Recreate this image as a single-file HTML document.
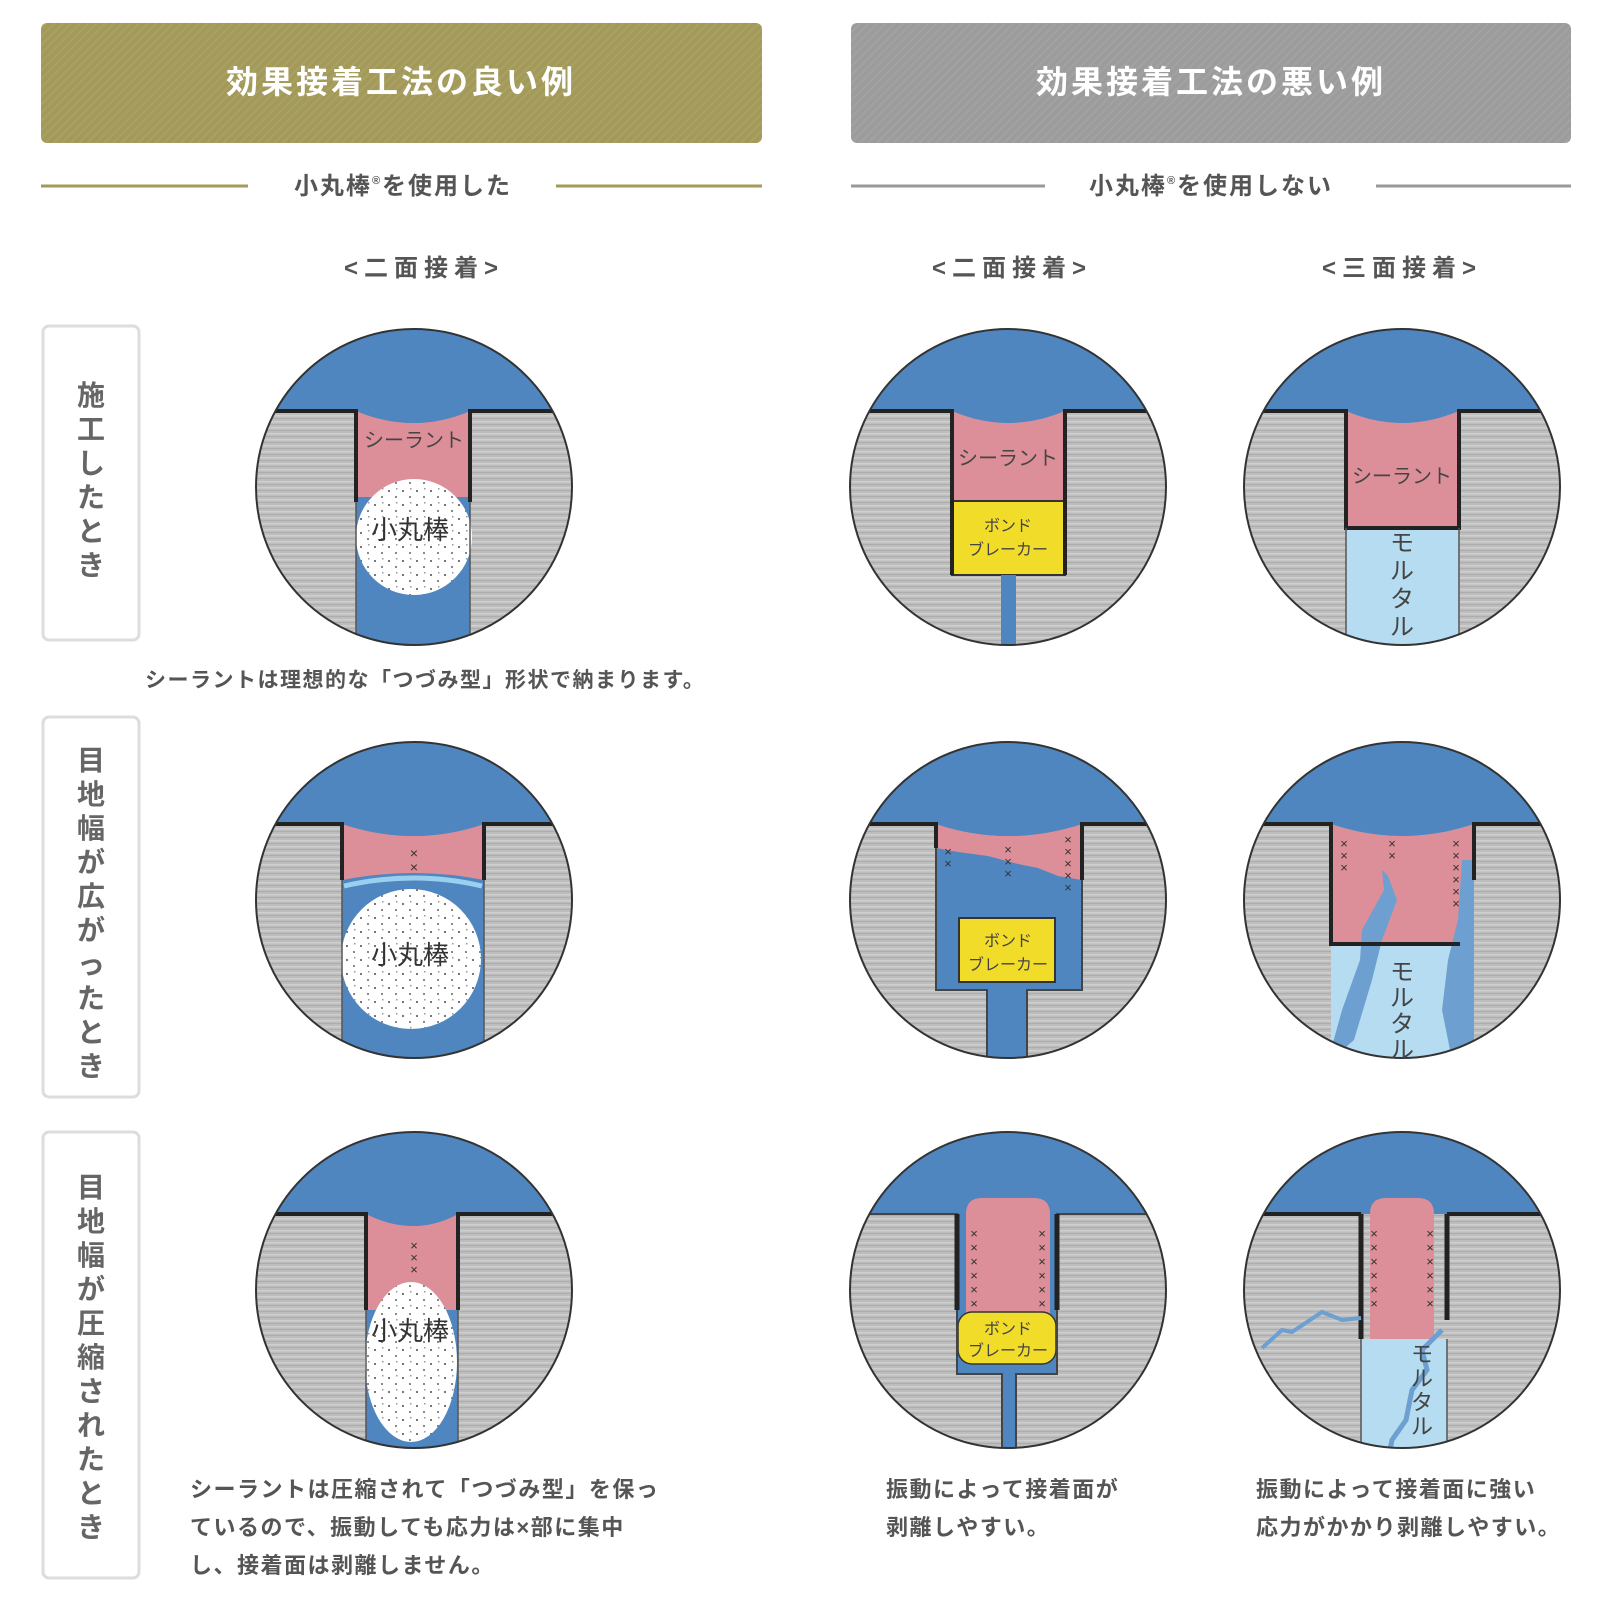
<!DOCTYPE html>
<html><head><meta charset="utf-8"><style>
body{margin:0;background:#fff;width:1600px;height:1600px;overflow:hidden;font-family:"Liberation Sans","Noto Sans CJK JP",sans-serif}
</style></head><body>
<svg width="1600" height="1600" viewBox="0 0 1600 1600" xmlns="http://www.w3.org/2000/svg" font-family="Liberation Sans, Noto Sans CJK JP, sans-serif">
<defs>
<pattern id="gr" width="8" height="6" patternUnits="userSpaceOnUse">
<rect width="8" height="6" fill="#bdbdbd"/><rect y="0" width="8" height="1.5" fill="#cfcfcf"/><rect y="3" width="8" height="1" fill="#adadad"/>
</pattern>
<pattern id="dots" width="14" height="14" patternUnits="userSpaceOnUse">
<rect width="14" height="14" fill="#fff"/><rect x="2" y="3" width="2" height="2" fill="#777"/><rect x="9" y="9" width="2" height="2" fill="#888"/><rect x="10" y="1" width="1.5" height="1.5" fill="#999"/>
</pattern>
<clipPath id="cc"><circle cx="0" cy="0" r="158"/></clipPath>
<pattern id="hd" width="6" height="6" patternUnits="userSpaceOnUse" patternTransform="rotate(45)"><rect width="6" height="6" fill="none"/><rect width="2" height="6" fill="#fff" opacity="0.06"/></pattern>
</defs>

<rect x="41" y="23" width="721" height="120" rx="6" fill="#a39a5a"/>
<rect x="41" y="23" width="721" height="120" rx="6" fill="url(#hd)"/>
<text x="401" y="93" font-size="32" font-weight="bold" fill="#fff" text-anchor="middle" letter-spacing="3">効果接着工法の良い例</text>
<rect x="851" y="23" width="720" height="120" rx="6" fill="#9c9c9c"/>
<rect x="851" y="23" width="720" height="120" rx="6" fill="url(#hd)"/>
<text x="1211" y="93" font-size="32" font-weight="bold" fill="#fff" text-anchor="middle" letter-spacing="3">効果接着工法の悪い例</text>

<line x1="41" y1="186" x2="248" y2="186" stroke="#a39a5a" stroke-width="3"/>
<line x1="556" y1="186" x2="762" y2="186" stroke="#a39a5a" stroke-width="3"/>
<text x="403" y="194" font-size="24" font-weight="bold" fill="#555" text-anchor="middle" letter-spacing="2">小丸棒<tspan font-size="11" dy="-10">®</tspan><tspan dy="10">を使用した</tspan></text>
<line x1="851" y1="186" x2="1045" y2="186" stroke="#999" stroke-width="3"/>
<line x1="1376" y1="186" x2="1571" y2="186" stroke="#999" stroke-width="3"/>
<text x="1211" y="194" font-size="24" font-weight="bold" fill="#555" text-anchor="middle" letter-spacing="2">小丸棒<tspan font-size="11" dy="-10">®</tspan><tspan dy="10">を使用しない</tspan></text>

<g font-size="24" fill="#555" font-weight="bold" text-anchor="middle" letter-spacing="6">
<text x="424" y="276">&lt;二面接着&gt;</text>
<text x="1012" y="276">&lt;二面接着&gt;</text>
<text x="1402" y="276">&lt;三面接着&gt;</text>
</g>

<g fill="#fff" stroke="#ddd" stroke-width="3">
<rect x="43" y="326" width="96" height="314" rx="6"/>
<rect x="43" y="717" width="96" height="380" rx="6"/>
<rect x="43" y="1132" width="96" height="446" rx="6"/>
</g>
<g font-size="28" font-weight="bold" fill="#666" text-anchor="middle">
<text x="91" y="405">施</text><text x="91" y="439">工</text><text x="91" y="473">し</text><text x="91" y="507">た</text><text x="91" y="541">と</text><text x="91" y="575">き</text>
<text x="91" y="770">目</text><text x="91" y="804">地</text><text x="91" y="838">幅</text><text x="91" y="872">が</text><text x="91" y="906">広</text><text x="91" y="940">が</text><text x="91" y="974">っ</text><text x="91" y="1008">た</text><text x="91" y="1042">と</text><text x="91" y="1076">き</text>
<text x="91" y="1197">目</text><text x="91" y="1231">地</text><text x="91" y="1265">幅</text><text x="91" y="1299">が</text><text x="91" y="1333">圧</text><text x="91" y="1367">縮</text><text x="91" y="1401">さ</text><text x="91" y="1435">れ</text><text x="91" y="1469">た</text><text x="91" y="1503">と</text><text x="91" y="1537">き</text>
</g>

<g font-size="21" fill="#555" font-weight="bold" letter-spacing="1.5">
<text x="145" y="687">シーラントは理想的な「つづみ型」形状で納まります。</text>
</g>
<g font-size="22" fill="#555" font-weight="bold" letter-spacing="1.5">
<text x="190" y="1497">シーラントは圧縮されて「つづみ型」を保っ</text>
<text x="190" y="1535">ているので、振動しても応力は×部に集中</text>
<text x="190" y="1573">し、接着面は剥離しません。</text>
<text x="886" y="1497">振動によって接着面が</text>
<text x="886" y="1535">剥離しやすい。</text>
<text x="1256" y="1497">振動によって接着面に強い</text>
<text x="1256" y="1535">応力がかかり剥離しやすい。</text>
</g>

<g transform="translate(414,487)">
<g clip-path="url(#cc)">
<rect x="-170" y="-170" width="340" height="340" fill="url(#gr)"/>
<rect x="-170" y="-170" width="340" height="94" fill="#4f86c0"/>
<rect x="-58" y="-76" width="114" height="240" fill="#4f86c0"/>
<path d="M-58,-76 Q0,-52 56,-76 L56,10 L-58,10Z" fill="#dc8f98"/>
<path d="M-58,-76 Q0,-52 56,-76 L56,-90 L-58,-90Z" fill="#4f86c0"/>
<circle cx="0" cy="50" r="58" fill="url(#dots)"/>
<path d="M-170,-76 H-58 V15 M56,15 V-76 H170" fill="none" stroke="#222" stroke-width="4"/>
<path d="M-58,15 V170 M56,15 V170" fill="none" stroke="#555" stroke-width="1.5"/>
</g>
<circle r="158" fill="none" stroke="#333" stroke-width="2"/>
<text x="0" y="-40" font-size="20" fill="#444" text-anchor="middle">シーラント</text>
<text x="-4" y="52" font-size="26" fill="#333" text-anchor="middle">小丸棒</text>
</g>

<g transform="translate(1008,487)">
<g clip-path="url(#cc)">
<rect x="-170" y="-170" width="340" height="340" fill="url(#gr)"/>
<rect x="-170" y="-170" width="340" height="94" fill="#4f86c0"/>
<path d="M-56,-76 Q0,-52 57,-76 L57,14 L-56,14Z" fill="#dc8f98"/>
<path d="M-56,-76 Q0,-52 57,-76 L57,-90 L-56,-90Z" fill="#4f86c0"/>
<rect x="-56" y="14" width="113" height="74" fill="#f2dc2a" stroke="#333" stroke-width="2"/>
<rect x="-7" y="88" width="15" height="90" fill="#4f86c0"/>
<path d="M-170,-76 H-56 V88 M57,88 V-76 H170" fill="none" stroke="#222" stroke-width="4"/>
</g>
<circle r="158" fill="none" stroke="#333" stroke-width="2"/>
<text x="0" y="-22" font-size="20" fill="#444" text-anchor="middle">シーラント</text>
<text x="0" y="44" font-size="16" fill="#444" text-anchor="middle">ボンド</text>
<text x="0" y="68" font-size="16" fill="#444" text-anchor="middle">ブレーカー</text>
</g>

<g transform="translate(1402,487)">
<g clip-path="url(#cc)">
<rect x="-170" y="-170" width="340" height="340" fill="url(#gr)"/>
<rect x="-170" y="-170" width="340" height="94" fill="#4f86c0"/>
<path d="M-56,-76 Q0,-52 57,-76 L57,41 L-56,41Z" fill="#dc8f98"/>
<path d="M-56,-76 Q0,-52 57,-76 L57,-90 L-56,-90Z" fill="#4f86c0"/>
<rect x="-56" y="41" width="113" height="140" fill="#b6dcf1"/>
<path d="M-170,-76 H-56 V41 H57 V-76 H170" fill="none" stroke="#222" stroke-width="4"/>
<path d="M-56,41 V170 M57,41 V170" fill="none" stroke="#555" stroke-width="1.5"/>
</g>
<circle r="158" fill="none" stroke="#333" stroke-width="2"/>
<text x="0" y="-4" font-size="20" fill="#444" text-anchor="middle">シーラント</text>
<text x="0" y="64" font-size="24" fill="#444" text-anchor="middle">モ</text>
<text x="0" y="92" font-size="24" fill="#444" text-anchor="middle">ル</text>
<text x="0" y="120" font-size="24" fill="#444" text-anchor="middle">タ</text>
<text x="0" y="148" font-size="24" fill="#444" text-anchor="middle">ル</text>
</g>

<g transform="translate(414,900)">
<g clip-path="url(#cc)">
<rect x="-170" y="-170" width="340" height="340" fill="url(#gr)"/>
<rect x="-170" y="-170" width="340" height="94" fill="#4f86c0"/>
<rect x="-72" y="-76" width="142" height="250" fill="#4f86c0"/>
<path d="M-72,-76 Q0,-52 70,-76 L70,-20 Q0,-34 -72,-20Z" fill="#dc8f98"/>
<path d="M-72,-76 Q0,-52 70,-76 L70,-90 L-72,-90Z" fill="#4f86c0"/>
<path d="M-70,-14 Q0,-30 68,-14" fill="none" stroke="#9ad0ef" stroke-width="5"/>
<circle cx="-3" cy="59" r="70" fill="url(#dots)"/>
<path d="M-170,-76 H-72 V-20 M70,-20 V-76 H170" fill="none" stroke="#222" stroke-width="4"/>
<path d="M-72,-20 V170 M70,-20 V170" fill="none" stroke="#555" stroke-width="1.5"/>
</g>
<circle r="158" fill="none" stroke="#333" stroke-width="2"/>
<text x="0" y="-42" font-size="14" fill="#333" text-anchor="middle">×</text>
<text x="0" y="-28" font-size="14" fill="#333" text-anchor="middle">×</text>
<text x="-4" y="64" font-size="26" fill="#333" text-anchor="middle">小丸棒</text>
</g>

<g transform="translate(1008,900)">
<g clip-path="url(#cc)">
<rect x="-170" y="-170" width="340" height="340" fill="url(#gr)"/>
<rect x="-170" y="-170" width="340" height="94" fill="#4f86c0"/>
<rect x="-72" y="-76" width="146" height="166" fill="#4f86c0"/>
<path d="M-72,-76 Q0,-52 74,-76 L74,-20 L50,-24 L30,-32 L10,-36 L-20,-44 L-50,-48 L-72,-52Z" fill="#dc8f98"/>
<path d="M-72,-76 Q0,-52 74,-76 L74,-90 L-72,-90Z" fill="#4f86c0"/>
<rect x="-49" y="18" width="96" height="64" fill="#f2dc2a" stroke="#333" stroke-width="2"/>
<rect x="-21" y="90" width="40" height="90" fill="#4f86c0"/>
<path d="M-170,-76 H-72 V90 H-21 V180 M19,180 V90 H74 V-76 H170" fill="none" stroke="#444" stroke-width="2"/>
<path d="M-170,-76 H-72 V-52 M74,-20 V-76 H170" fill="none" stroke="#222" stroke-width="4"/>
</g>
<circle r="158" fill="none" stroke="#333" stroke-width="2"/>
<g font-size="13" fill="#333" text-anchor="middle">
<text x="-60" y="-44">×</text><text x="-60" y="-32">×</text>
<text x="0" y="-46">×</text><text x="0" y="-34">×</text><text x="0" y="-22">×</text>
<text x="60" y="-56">×</text><text x="60" y="-44">×</text><text x="60" y="-32">×</text><text x="60" y="-20">×</text><text x="60" y="-8">×</text>
</g>
<text x="0" y="46" font-size="16" fill="#444" text-anchor="middle">ボンド</text>
<text x="0" y="70" font-size="16" fill="#444" text-anchor="middle">ブレーカー</text>
</g>

<g transform="translate(1402,900)">
<g clip-path="url(#cc)">
<rect x="-170" y="-170" width="340" height="340" fill="url(#gr)"/>
<rect x="-170" y="-170" width="340" height="94" fill="#4f86c0"/>
<path d="M-71,-76 Q0,-52 72,-76 L72,44 L-71,44Z" fill="#dc8f98"/>
<path d="M-71,-76 Q0,-52 72,-76 L72,-90 L-71,-90Z" fill="#4f86c0"/>
<rect x="-71" y="44" width="143" height="140" fill="#b6dcf1"/>
<path d="M-20,-30 L-18,-10 L-40,30 L-42,60 L-60,110 L-71,150 L-71,160 L-48,140 L-30,80 L-20,40 L-5,0 L-14,-24Z" fill="#6d9fd0"/>
<path d="M60,-40 L56,20 L46,60 L40,110 L50,160 L72,160 L72,-40Z" fill="#6d9fd0"/>
<path d="M-171,-76 H-71 V44 H58 M72,-20 V-76 H170" fill="none" stroke="#222" stroke-width="4"/>
</g>
<circle r="158" fill="none" stroke="#333" stroke-width="2"/>
<g font-size="13" fill="#333" text-anchor="middle">
<text x="-58" y="-52">×</text><text x="-58" y="-40">×</text><text x="-58" y="-28">×</text>
<text x="-10" y="-52">×</text><text x="-10" y="-40">×</text>
<text x="54" y="-52">×</text><text x="54" y="-40">×</text><text x="54" y="-28">×</text><text x="54" y="-16">×</text><text x="54" y="-4">×</text><text x="54" y="8">×</text>
</g>
<g font-size="24" fill="#444" text-anchor="middle">
<text x="0" y="80">モ</text><text x="0" y="106">ル</text><text x="0" y="132">タ</text><text x="0" y="158">ル</text>
</g>
</g>

<g transform="translate(414,1290)">
<g clip-path="url(#cc)">
<rect x="-170" y="-170" width="340" height="340" fill="url(#gr)"/>
<rect x="-170" y="-170" width="340" height="94" fill="#4f86c0"/>
<rect x="-48" y="-76" width="92" height="250" fill="#4f86c0"/>
<path d="M-48,-76 Q0,-52 44,-76 L44,20 L-48,20Z" fill="#dc8f98"/>
<path d="M-48,-76 Q0,-52 44,-76 L44,-90 L-48,-90Z" fill="#4f86c0"/>
<ellipse cx="-3" cy="72" rx="46" ry="80" fill="url(#dots)"/>
<path d="M-170,-76 H-48 V20 M44,20 V-76 H170" fill="none" stroke="#222" stroke-width="4"/>
<path d="M-48,20 V170 M44,20 V170" fill="none" stroke="#555" stroke-width="1.5"/>
</g>
<circle r="158" fill="none" stroke="#333" stroke-width="2"/>
<g font-size="13" fill="#333" text-anchor="middle"><text x="0" y="-40">×</text><text x="0" y="-28">×</text><text x="0" y="-16">×</text></g>
<text x="-4" y="50" font-size="26" fill="#333" text-anchor="middle">小丸棒</text>
</g>

<g transform="translate(1008,1290)">
<g clip-path="url(#cc)">
<rect x="-170" y="-170" width="340" height="340" fill="url(#gr)"/>
<rect x="-170" y="-170" width="340" height="94" fill="#4f86c0"/>
<rect x="-51" y="-76" width="100" height="160" fill="#4f86c0"/>
<path d="M-42,-76 Q-42,-92 -26,-92 L26,-92 Q42,-92 42,-76 L42,30 L-42,30Z" fill="#dc8f98"/>
<rect x="-50" y="22" width="98" height="52" rx="14" fill="#f2dc2a" stroke="#333" stroke-width="1.5"/>
<rect x="-6" y="84" width="14" height="90" fill="#4f86c0"/>
<path d="M-170,-76 H-51 V84 H-6 V180 M8,180 V84 H49 V-76 H170" fill="none" stroke="#444" stroke-width="2"/>
<path d="M-51,-76 V20 M49,-76 V20" stroke="#222" stroke-width="5"/>
</g>
<circle r="158" fill="none" stroke="#333" stroke-width="2"/>
<g font-size="13" fill="#333" text-anchor="middle">
<text x="-34" y="-52">×</text><text x="-34" y="-38">×</text><text x="-34" y="-24">×</text><text x="-34" y="-10">×</text><text x="-34" y="4">×</text><text x="-34" y="18">×</text>
<text x="34" y="-52">×</text><text x="34" y="-38">×</text><text x="34" y="-24">×</text><text x="34" y="-10">×</text><text x="34" y="4">×</text><text x="34" y="18">×</text>
</g>
<text x="0" y="44" font-size="16" fill="#444" text-anchor="middle">ボンド</text>
<text x="0" y="66" font-size="16" fill="#444" text-anchor="middle">ブレーカー</text>
</g>

<g transform="translate(1402,1290)">
<g clip-path="url(#cc)">
<rect x="-170" y="-170" width="340" height="340" fill="url(#gr)"/>
<rect x="-170" y="-170" width="340" height="94" fill="#4f86c0"/>
<path d="M-32,-76 Q-32,-92 -16,-92 L16,-92 Q32,-92 32,-76 L32,49 L-32,49Z" fill="#dc8f98"/>
<rect x="-41" y="49" width="86" height="130" fill="#b6dcf1"/>
<path d="M-41,-76 V49 M45,-76 V30" stroke="#222" stroke-width="5"/>
<path d="M-170,-76 H-41 M45,-76 H170" stroke="#222" stroke-width="4"/>
<path d="M-41,49 V170 M45,49 V170" stroke="#555" stroke-width="1.5"/>
<path d="M-140,58 L-120,40 L-110,42 L-80,22 L-60,30 L-41,28" fill="none" stroke="#6d9fd0" stroke-width="4"/>
<path d="M40,40 L20,60 L25,80 L10,100 L4,130 L-10,150 L-14,170" fill="none" stroke="#6d9fd0" stroke-width="5"/>
</g>
<circle r="158" fill="none" stroke="#333" stroke-width="2"/>
<g font-size="13" fill="#333" text-anchor="middle">
<text x="-28" y="-52">×</text><text x="-28" y="-38">×</text><text x="-28" y="-24">×</text><text x="-28" y="-10">×</text><text x="-28" y="4">×</text><text x="-28" y="18">×</text>
<text x="28" y="-52">×</text><text x="28" y="-38">×</text><text x="28" y="-24">×</text><text x="28" y="-10">×</text><text x="28" y="4">×</text><text x="28" y="18">×</text>
</g>
<g font-size="22" fill="#444" text-anchor="middle">
<text x="20" y="72">モ</text><text x="20" y="96">ル</text><text x="20" y="120">タ</text><text x="20" y="144">ル</text>
</g>
</g>
</svg>
</body></html>
